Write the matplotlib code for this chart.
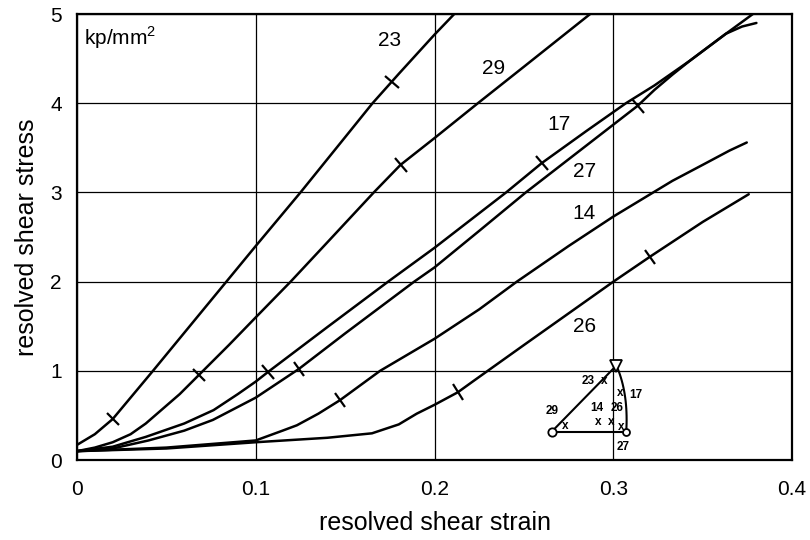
import numpy as np
import matplotlib
matplotlib.use("Agg")
import matplotlib.pyplot as plt
from matplotlib.markers import MarkerStyle
from matplotlib.transforms import Affine2D

plt.rcParams['font.family'] = ['Liberation Sans', 'DejaVu Sans']
plt.rcParams['mathtext.fontset'] = 'custom'
plt.rcParams['mathtext.rm'] = 'Liberation Sans'

# stress-strain curves
strain_23 = [0, 0.01, 0.02, 0.03, 0.0425, 0.07, 0.1, 0.125, 0.15, 0.1653, 0.18, 0.2, 0.211, 0.22]
stress_23 = [0.17, 0.29, 0.46, 0.70, 1.0, 1.67, 2.40, 3.0, 3.62, 4.0, 4.33, 4.77, 5.0, 5.17]

strain_29 = [0, 0.01, 0.02, 0.03, 0.0385, 0.0575, 0.068, 0.085, 0.1, 0.1195, 0.14, 0.166, 0.181, 0.2, 0.2242, 0.25, 0.287, 0.295]
stress_29 = [0.1, 0.14, 0.2, 0.29, 0.41, 0.74, 0.95, 1.29, 1.60, 2.0, 2.44, 3.0, 3.31, 3.61, 4.0, 4.41, 5.0, 5.12]

strain_17 = [0, 0.02, 0.0385, 0.06, 0.0764, 0.09, 0.1, 0.107, 0.14, 0.174, 0.2, 0.24, 0.26, 0.285, 0.307, 0.323, 0.343, 0.363, 0.372, 0.380]
stress_17 = [0.1, 0.15, 0.26, 0.41, 0.56, 0.74, 0.88, 0.99, 1.49, 2.0, 2.38, 3.0, 3.33, 3.69, 4.0, 4.2, 4.48, 4.78, 4.86, 4.9]

strain_27 = [0, 0.02, 0.04, 0.06, 0.076, 0.1, 0.124, 0.15, 0.1886, 0.2, 0.225, 0.251, 0.28, 0.3135, 0.323, 0.333, 0.343, 0.363, 0.378]
stress_27 = [0.1, 0.13, 0.22, 0.33, 0.45, 0.70, 1.02, 1.42, 2.0, 2.16, 2.57, 3.0, 3.45, 3.97, 4.15, 4.32, 4.48, 4.78, 5.0]

strain_14 = [0, 0.05, 0.1, 0.115, 0.123, 0.135, 0.147, 0.1695, 0.2, 0.225, 0.246, 0.275, 0.3, 0.333, 0.35, 0.365, 0.3746]
stress_14 = [0.1, 0.14, 0.22, 0.33, 0.39, 0.52, 0.67, 1.0, 1.36, 1.69, 2.0, 2.4, 2.73, 3.13, 3.31, 3.47, 3.56]

strain_26 = [0, 0.05, 0.1, 0.14, 0.165, 0.18, 0.19, 0.2, 0.213, 0.222, 0.25, 0.3, 0.3205, 0.35, 0.3757]
stress_26 = [0.1, 0.13, 0.2, 0.25, 0.3, 0.4, 0.52, 0.62, 0.76, 0.89, 1.29, 2.0, 2.28, 2.67, 2.98]

# strain values where the cross marks sit
marks_23 = [0.02, 0.176]
marks_29 = [0.068, 0.181]
marks_17 = [0.107, 0.26]
marks_27 = [0.124, 0.3135]
marks_14 = [0.147]
marks_26 = [0.213, 0.3205]

curve_names = ['23', '29', '17', '27', '14', '26']
label_x = [0.175, 0.2328, 0.2694, 0.284, 0.2833, 0.2839]
label_y = [4.70, 4.39, 3.76, 3.24, 2.76, 1.50]

x_ticks = [0, 0.1, 0.2, 0.3, 0.4]
x_ticklabels = ['0', '0.1', '0.2', '0.3', '0.4']
y_ticks = [0, 1, 2, 3, 4, 5]

# small orientation triangle inset (data coordinates)
tri_corner_29 = (0.2656, 0.32)
tri_corner_27 = (0.3072, 0.32)
tri_top = (0.3017, 1.06)
inset_names = ['23', '17', '29', '14', '26', '27']
inset_name_x = [0.2861, 0.3124, 0.2656, 0.2906, 0.3018, 0.3054]
inset_name_y = [0.885, 0.73, 0.55, 0.58, 0.58, 0.15]
inset_x_x = [0.295, 0.3038, 0.2728, 0.2917, 0.2989, 0.3043]
inset_x_y = [0.885, 0.75, 0.38, 0.43, 0.43, 0.37]

fig = plt.figure(figsize=(8.1, 5.4), dpi=100)
ax = fig.add_axes([0.095, 0.148, 0.883, 0.826])
ax.set_xlim(0, 0.4)
ax.set_ylim(0, 5)

ax.grid(True, color='black', linewidth=0.9)
ax.set_axisbelow(True)
for sp in ax.spines.values():
    sp.set_linewidth(1.6)

curves = [(strain_23, stress_23, marks_23), (strain_29, stress_29, marks_29),
          (strain_17, stress_17, marks_17), (strain_27, stress_27, marks_27),
          (strain_14, stress_14, marks_14), (strain_26, stress_26, marks_26)]

for sx, sy, mk in curves:
    ax.plot(sx, sy, color='black', linewidth=1.8, solid_capstyle='round')
    # short tick across the curve at each mark
    for m in mk:
        ym = np.interp(m, sx, sy)
        p1 = ax.transData.transform((m - 0.003, np.interp(m - 0.003, sx, sy)))
        p2 = ax.transData.transform((m + 0.003, np.interp(m + 0.003, sx, sy)))
        ang = np.degrees(np.arctan2(p2[1] - p1[1], p2[0] - p1[0])) + 90
        ms = MarkerStyle('_', transform=Affine2D().rotate_deg(ang))
        ax.plot([m], [ym], marker=ms, color='black', markersize=13, markeredgewidth=1.6)

for name, lx, ly in zip(curve_names, label_x, label_y):
    ax.text(lx, ly, name, fontsize=15, ha='center', va='center')

ax.text(0.01, 0.93, 'kp/mm$^2$', transform=ax.transAxes, fontsize=15, ha='left', va='baseline')

# inset triangle
ax.plot([tri_corner_29[0], tri_top[0]], [tri_corner_29[1], tri_top[1]], color='black', lw=1.5)
ax.plot([tri_corner_29[0], tri_corner_27[0]], [tri_corner_29[1], tri_corner_27[1]], color='black', lw=1.5)
t = np.linspace(0, 1, 20)
ctrl = (0.3085, 0.75)
arc_x = (1 - t) ** 2 * tri_corner_27[0] + 2 * (1 - t) * t * ctrl[0] + t ** 2 * tri_top[0]
arc_y = (1 - t) ** 2 * tri_corner_27[1] + 2 * (1 - t) * t * ctrl[1] + t ** 2 * tri_top[1]
ax.plot(arc_x, arc_y, color='black', lw=1.5)
ax.plot(*tri_corner_29, marker='o', ms=6, mfc='white', mec='black', mew=1.3)
ax.plot(*tri_corner_27, marker='o', ms=5, mfc='white', mec='black', mew=1.3)
ax.plot(*tri_top, marker='v', ms=9, mfc='white', mec='black', mew=1.3)
for name, nx, ny in zip(inset_names, inset_name_x, inset_name_y):
    ax.text(nx, ny, name, fontsize=8.5, fontweight='bold', ha='center', va='center')
for xx, xy in zip(inset_x_x, inset_x_y):
    ax.text(xx, xy, 'x', fontsize=8.5, fontweight='bold', ha='center', va='center')

ax.set_xticks(x_ticks)
ax.set_xticklabels(x_ticklabels)
ax.set_yticks(y_ticks)
ax.tick_params(length=0, labelsize=15)
ax.tick_params(axis='x', pad=14)
ax.tick_params(axis='y', pad=11)
ax.set_xlabel('resolved shear strain', fontsize=18, labelpad=9)
ax.set_ylabel('resolved shear stress', fontsize=18, labelpad=8)

fig.savefig('out.png', dpi=100)
